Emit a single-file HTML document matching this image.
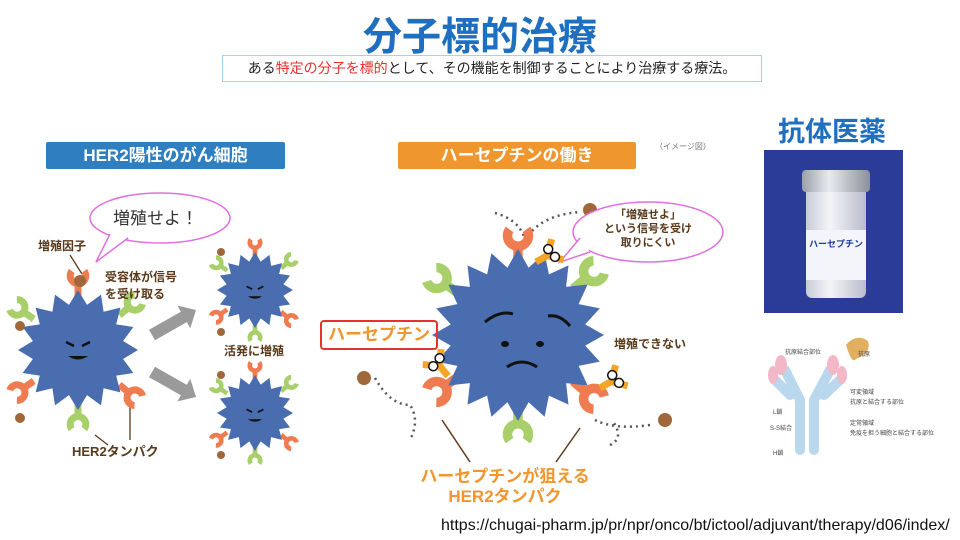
<!DOCTYPE html>
<html><head><meta charset="utf-8">
<style>
body{margin:0;background:#fff;}
#c{position:relative;width:960px;height:540px;overflow:hidden;font-family:"Liberation Sans","Noto Sans CJK JP",sans-serif;}
.t{position:absolute;white-space:nowrap;}
</style></head>
<body><div id="c">
<svg id="s" width="960" height="540" style="position:absolute;left:0;top:0"></svg>
<div class="t" style="left:0;width:960px;text-align:center;top:6px;font-size:39px;font-weight:bold;color:#1f6fc1;">分子標的治療</div>
<div class="t" style="left:222px;top:55px;width:538px;height:25px;border:1px solid #a9d0ec;text-align:center;font-size:14px;line-height:25px;color:#222;">ある<span style="color:#e8302c">特定の分子を標的</span>として、その機能を制御することにより治療する療法。</div>
<div class="t" style="left:46px;top:142px;width:239px;height:27px;background:#2f7fc0;color:#fff;font-weight:bold;font-size:17px;line-height:27px;text-align:center;border-radius:2px;">HER2陽性のがん細胞</div>
<div class="t" style="left:398px;top:142px;width:238px;height:27px;background:#f0962e;color:#fff;font-weight:bold;font-size:17px;line-height:27px;text-align:center;border-radius:2px;">ハーセプチンの働き</div>
<div class="t" style="left:655px;top:141px;font-size:8px;color:#777;">（イメージ図）</div>
<div class="t" style="left:778px;top:110px;font-size:27px;font-weight:bold;color:#1f6fc1;">抗体医薬</div>
<div class="t" style="left:113px;top:204px;font-size:17px;color:#333;">増殖せよ！</div>
<div class="t" style="left:38px;top:237px;font-size:12px;font-weight:bold;color:#5a3a1a;">増殖因子</div>
<div class="t" style="left:105px;top:269px;font-size:12px;font-weight:bold;color:#5a3a1a;line-height:17px;">受容体が信号<br>を受け取る</div>
<div class="t" style="left:224px;top:342px;font-size:12px;font-weight:bold;color:#5a3a1a;">活発に増殖</div>
<div class="t" style="left:72px;top:441px;font-size:13px;font-weight:bold;color:#5a3a1a;">HER2タンパク</div>
<div class="t" style="left:598px;top:208px;font-size:11px;font-weight:bold;color:#5a3a1a;line-height:14px;text-align:center;width:100px;">「増殖せよ」<br>という信号を受け<br>取りにくい</div>
<div class="t" style="left:320px;top:320px;width:114px;height:26px;border:2px solid #e8302c;border-radius:4px;font-size:17px;line-height:26px;color:#f0962e;font-weight:bold;text-align:center;">ハーセプチン</div>
<div class="t" style="left:614px;top:335px;font-size:12px;font-weight:bold;color:#5a3a1a;">増殖できない</div>
<div class="t" style="left:400px;top:467px;width:210px;text-align:center;font-size:17px;line-height:20px;font-weight:bold;color:#f0962e;">ハーセプチンが狙える<br>HER2タンパク</div>
<div class="t" style="left:441px;top:517px;font-size:16px;color:#111;">https://chugai-pharm.jp/pr/npr/onco/bt/ictool/adjuvant/therapy/d06/index/</div>
<div class="t" style="left:764px;top:150px;width:139px;height:163px;background:#2b3b98;"></div>
<div class="t" style="left:806px;top:170px;width:60px;height:128px;background:linear-gradient(90deg,#c8ccd8,#f4f5f8 40%,#b8bccc);border-radius:6px;"></div>
<div class="t" style="left:802px;top:170px;width:68px;height:22px;background:linear-gradient(90deg,#9aa0aa,#e8eaee 40%,#8a909a);border-radius:4px;"></div>
<div class="t" style="left:806px;top:230px;width:60px;height:50px;background:#f4f5fa;font-size:9px;font-weight:bold;color:#1a3aa0;text-align:center;line-height:28px;">ハーセプチン</div>
</div>
<script>
var S=document.getElementById('s'),NS='http://www.w3.org/2000/svg';
function el(t,a,p){var e=document.createElementNS(NS,t);for(var k in a)e.setAttribute(k,a[k]);(p||S).appendChild(e);return e;}
function star(cx,cy,ro,ri,n,rot){var p=[];for(var i=0;i<2*n;i++){var r=i%2?ri:ro,a=Math.PI*i/n+(rot||0);p.push((cx+r*Math.cos(a)).toFixed(1)+','+(cy+r*Math.sin(a)).toFixed(1));}el('polygon',{points:p.join(' '),fill:'#4a6db0'});}
function rec(cx,cy,R,ang,col,sc){var a=ang*Math.PI/180,x=cx+R*Math.sin(a),y=cy-R*Math.cos(a);var g=el('g',{transform:'translate('+x+','+y+') rotate('+ang+') scale('+sc+')'});
 el('line',{x1:0,y1:0,x2:0,y2:-18,stroke:col,'stroke-width':9},g);
 el('path',{d:'M -8 -32 A 10 10 0 1 0 8 -32',fill:'none',stroke:col,'stroke-width':9},g);}
function dot(x,y,r){el('circle',{cx:x,cy:y,r:r||5,fill:'#a0683a'});}
function arrow(x1,y1,x2,y2){var a=Math.atan2(y2-y1,x2-x1)*180/Math.PI,L=Math.hypot(x2-x1,y2-y1);var g=el('g',{transform:'translate('+x1+','+y1+') rotate('+a+')'});
 el('polygon',{points:'0,-6 '+(L-14)+',-6 '+(L-14)+',-13 '+L+',0 '+(L-14)+',13 '+(L-14)+',6 0,6',fill:'#9a9a9a'},g);}
function face(cx,cy,s){var c='#111';el('path',{d:'M'+(cx-12*s)+' '+(cy-8*s)+' l'+(8*s)+' '+(4*s)+' M'+(cx+12*s)+' '+(cy-8*s)+' l'+(-8*s)+' '+(4*s),stroke:c,'stroke-width':2.5*s,fill:'none'});
 el('path',{d:'M'+(cx-10*s)+' '+(cy+6*s)+' q'+(10*s)+' '+(7*s)+' '+(20*s)+' 0 z',fill:c});}
var O='#ee7c50',G='#a8cf6a';
function cellRecs(cx,cy,R,sc){rec(cx,cy,R,0,O,sc);rec(cx,cy,R,50,G,sc);rec(cx,cy,R,-55,G,sc);rec(cx,cy,R,-125,O,sc);rec(cx,cy,R,130,O,sc);rec(cx,cy,R,180,G,sc);}
// left
el('ellipse',{cx:160,cy:218,rx:70,ry:25,fill:'#fff',stroke:'#e070e0','stroke-width':1.5});
el('path',{d:'M110 234 L96 262 L128 238',fill:'#fff',stroke:'#e070e0','stroke-width':1.5});
el('line',{x1:70,y1:255,x2:82,y2:274,stroke:'#5a3a1a','stroke-width':1.3});
el('line',{x1:95,y1:435,x2:108,y2:445,stroke:'#5a3a1a','stroke-width':1.3});
el('line',{x1:130,y1:405,x2:130,y2:440,stroke:'#5a3a1a','stroke-width':1.3});
cellRecs(78,350,54,.78);dot(80,281,6);
star(78,350,60,46,16);face(78,350,1);
dot(20,326,5);dot(20,418,5);
arrow(152,335,196,310);arrow(152,372,196,397);
[[255,290],[255,413]].forEach(function(p){var x=p[0],y=p[1];cellRecs(x,y,34,.52);star(x,y,38,29,16);face(x,y+2,.7);dot(x-34,y-38,4);dot(x-34,y+42,4);});
// middle
el('path',{d:'M495 213 Q520 220 525 240 Q540 215 580 212',fill:'none',stroke:'#555','stroke-width':2.5,'stroke-dasharray':'2 4'});dot(590,210,7);
el('path',{d:'M375 378 Q390 405 410 405 Q420 420 410 440',fill:'none',stroke:'#555','stroke-width':2.5,'stroke-dasharray':'2 4'});dot(364,378,7);
el('path',{d:'M595 420 Q615 430 650 425 M610 445 Q625 438 612 420',fill:'none',stroke:'#555','stroke-width':2.5,'stroke-dasharray':'2 4'});dot(665,420,7);
el('ellipse',{cx:648,cy:232,rx:75,ry:30,fill:'#fff',stroke:'#e070e0','stroke-width':1.5});
el('path',{d:'M580 238 L560 262 L590 252',fill:'#fff',stroke:'#e070e0','stroke-width':1.5});
el('line',{x1:442,y1:420,x2:470,y2:462,stroke:'#5a3a1a','stroke-width':1.5});
el('line',{x1:580,y1:428,x2:556,y2:462,stroke:'#5a3a1a','stroke-width':1.5});
cellRecs(518,335,72,1.05);
star(518,335,86,68,20);
function herc(x,y,a){var g=el('g',{transform:'translate('+x+','+y+') rotate('+a+')'});el('path',{d:'M0 0 L0 -13 M0 -13 L-12 -25 M0 -13 L12 -25',stroke:'#f3a528','stroke-width':7,fill:'none'},g);
 el('circle',{cx:-5,cy:-17,r:4.5,fill:'#fff',stroke:'#111','stroke-width':1.5},g);el('circle',{cx:5,cy:-19,r:4.5,fill:'#fff',stroke:'#111','stroke-width':1.5},g);}
herc(536,262,60);herc(448,376,-40);herc(600,388,60);
el('path',{d:'M485 322 q15 -12 28 -8 M548 316 q12 -2 22 10',stroke:'#111','stroke-width':3,fill:'none'});
el('ellipse',{cx:505,cy:344,rx:4,ry:3,fill:'#111'});el('ellipse',{cx:540,cy:344,rx:4,ry:3,fill:'#111'});
el('path',{d:'M507 367 q15 -10 30 0',stroke:'#111','stroke-width':3,fill:'none'});
// antibody
function arm(x1,y1,x2,y2){el('line',{x1:x1,y1:y1,x2:x2,y2:y2,stroke:'#b9d8ee','stroke-width':10,'stroke-linecap':'round'});}
arm(800,450,800,400);arm(800,400,785,370);arm(814,450,814,400);arm(814,400,830,370);
arm(790,395,775,380);arm(824,395,840,380);
el('ellipse',{cx:781,cy:365,rx:6,ry:10,fill:'#f3b8c8'});el('ellipse',{cx:833,cy:365,rx:6,ry:10,fill:'#f3b8c8'});
el('ellipse',{cx:773,cy:375,rx:5,ry:9,fill:'#f3b8c8'});el('ellipse',{cx:842,cy:375,rx:5,ry:9,fill:'#f3b8c8'});
el('path',{d:'M846 345 q10 -12 22 -4 q4 12 -12 18 q-4 6 -10 -14z',fill:'#e0b060'});
var lab=[[858,356,'抗原'],[850,394,'可変領域'],[850,404,'抗原と結合する部位'],[850,425,'定常領域'],[850,435,'免疫を担う細胞と結合する部位'],[785,354,'抗原結合部位'],[773,414,'L鎖'],[770,430,'S-S結合'],[773,455,'H鎖']];
lab.forEach(function(l){var t=el('text',{x:l[0],y:l[1],'font-size':6,fill:'#444','font-family':'Liberation Sans,Noto Sans CJK JP,sans-serif'});t.textContent=l[2];});
</script>
</body></html>
